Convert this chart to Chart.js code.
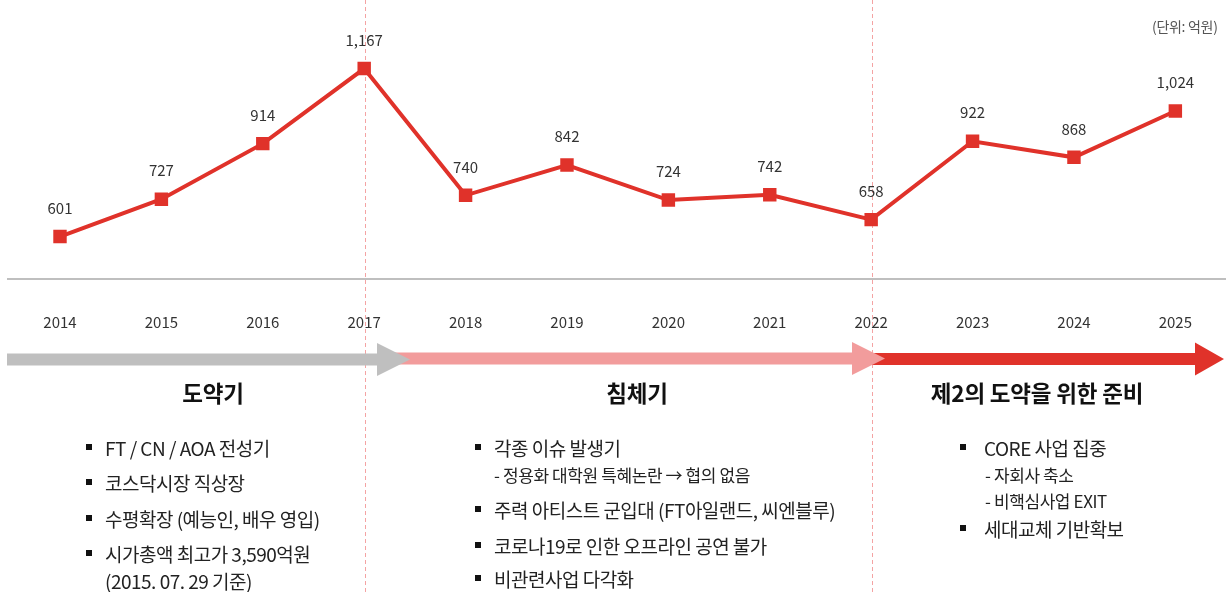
<!DOCTYPE html>
<html><head><meta charset="utf-8">
<script src="https://cdn.jsdelivr.net/npm/chart.js@4.4.1/dist/chart.umd.min.js"></script>
<style>
html,body{margin:0;padding:0;background:#fff;}
#wrap{position:relative;width:1226px;height:592px;overflow:hidden;font-family:"Noto Sans CJK KR","Noto Sans",sans-serif;color:#222;}
#c{position:absolute;left:0;top:0;}
.t{position:absolute;white-space:nowrap;line-height:1;}
.title{font-weight:bold;font-size:22.5px;color:#111;transform:translateX(-50%);letter-spacing:-0.2px;}
.b{font-size:19px;letter-spacing:-0.5px;}
.s{font-size:17px;letter-spacing:-0.4px;}
.sq{position:absolute;width:6px;height:6px;background:#111;}
.unit{font-size:14px;color:#555;letter-spacing:-0.3px;}
</style>
</head><body>
<div id="wrap">
<canvas id="c" width="1226" height="592"></canvas>
<div class="t unit" style="left:1152px;top:19px;">(단위: 억원)</div>
<div id="notes"></div>
</div>
<script>
// ---- data ----
const years = ['2014','2015','2016','2017','2018','2019','2020','2021','2022','2023','2024','2025'];
const revenue = [601, 727, 914, 1167, 740, 842, 724, 742, 658, 922, 868, 1024];
const phaseDividerYears = ['2017','2022'];
const phaseTitles = ['도약기','침체기','제2의 도약을 위한 준비'];
const notesLeap = ['FT / CN / AOA 전성기','코스닥시장 직상장','수평확장 (예능인, 배우 영입)','시가총액 최고가 3,590억원'];
const notesLeapSub = ['(2015. 07. 29 기준)'];
const notesSlump = ['각종 이슈 발생기','주력 아티스트 군입대 (FT아일랜드, 씨엔블루)','코로나19로 인한 오프라인 공연 불가','비관련사업 다각화'];
const notesSlumpSub = ['- 정용화 대학원 특혜논란 → 협의 없음'];
const notesPrep = ['CORE 사업 집중','세대교체 기반확보'];
const notesPrepSub = ['- 자회사 축소','- 비핵심사업 EXIT'];

const RED = '#e0322a', PINK = '#f29c9c', GRAY = '#bfbfbf';
const FONT = '"Noto Sans CJK KR","Noto Sans",sans-serif';

// ---- notes (HTML text) ----
const notes = document.getElementById('notes');
function addText(cls, txt, left, cy, fs){
  const d = document.createElement('div'); d.className = 't ' + cls; d.textContent = txt;
  d.style.left = left + 'px'; d.style.top = (cy - fs/2) + 'px'; notes.appendChild(d); return d;
}
function addSq(left, cy){
  const d = document.createElement('div'); d.className = 'sq';
  d.style.left = left + 'px'; d.style.top = (cy - 3) + 'px'; notes.appendChild(d);
}
addText('title', phaseTitles[0], 213, 392, 22.5);
addText('title', phaseTitles[1], 637, 392, 22.5);
addText('title', phaseTitles[2], 1037, 392, 22.5);
// left column
[[notesLeap[0],447],[notesLeap[1],482],[notesLeap[2],518],[notesLeap[3],553]].forEach(([t,y])=>{addSq(86,y); addText('b', t, 105, y, 19);});
addText('b', notesLeapSub[0], 105, 580, 19);
// middle column
[[notesSlump[0],447],[notesSlump[1],509],[notesSlump[2],545],[notesSlump[3],578]].forEach(([t,y])=>{addSq(475,y); addText('b', t, 494, y, 19);});
addText('s', notesSlumpSub[0], 494, 474, 17);
// right column
[[notesPrep[0],447],[notesPrep[1],528]].forEach(([t,y])=>{addSq(960,y); addText('b', t, 984, y, 19);});
addText('s', notesPrepSub[0], 985, 474, 17);
addText('s', notesPrepSub[1], 985, 500, 17);

// ---- plugins ----
const decor = {
  id: 'decor',
  beforeDatasetsDraw(chart){
    const ctx = chart.ctx, xs = chart.scales.x, ys = chart.scales.y;
    ctx.save();
    // baseline
    const by = ys.getPixelForValue(ys.min);
    ctx.strokeStyle = GRAY; ctx.lineWidth = 2;
    ctx.beginPath(); ctx.moveTo(7, by); ctx.lineTo(1226, by); ctx.stroke();
    // dashed dividers
    ctx.strokeStyle = '#f4a3a3'; ctx.lineWidth = 1; ctx.setLineDash([4,3]);
    phaseDividerYears.forEach(yr => {
      const x = Math.round(xs.getPixelForValue(years.indexOf(yr))) + 1.5;
      ctx.beginPath(); ctx.moveTo(x, 0); ctx.lineTo(x, 592); ctx.stroke();
    });
    ctx.setLineDash([]);
    // arrows
    function arrow(x0, xb, xt, cy, color){
      ctx.fillStyle = color;
      ctx.beginPath();
      ctx.moveTo(x0, cy-6); ctx.lineTo(xb, cy-6); ctx.lineTo(xb, cy-16.5);
      ctx.lineTo(xt, cy); ctx.lineTo(xb, cy+16.5); ctx.lineTo(xb, cy+6); ctx.lineTo(x0, cy+6);
      ctx.closePath(); ctx.fill();
    }
    arrow(872, 1195, 1224, 359, RED);
    arrow(395, 852, 885, 358.5, PINK);
    arrow(7, 377, 410, 359.5, GRAY);
    ctx.restore();
  },
  afterDatasetsDraw(chart){
    const ctx = chart.ctx, meta = chart.getDatasetMeta(0);
    ctx.save();
    ctx.font = '15px ' + FONT; ctx.fillStyle = '#333';
    ctx.textAlign = 'center'; ctx.textBaseline = 'middle';
    meta.data.forEach((p, i) => ctx.fillText(revenue[i].toLocaleString('en-US'), p.x, p.y - 28.5));
    ctx.restore();
  }
};

new Chart(document.getElementById('c'), {
  type: 'line',
  data: { labels: years, datasets: [{
    data: revenue, borderColor: RED, borderWidth: 4, tension: 0,
    pointStyle: 'rect', pointRadius: 9.5, pointHoverRadius: 9.5,
    pointBackgroundColor: RED, pointBorderColor: RED, pointBorderWidth: 0
  }]},
  options: {
    responsive: false, animation: false, devicePixelRatio: 1,
    layout: { padding: { left: 60, right: 49, top: 0, bottom: 227 } },
    plugins: { legend: { display: false }, tooltip: { enabled: false } },
    scales: {
      x: { grid: { display: false, drawTicks: false }, border: { display: false },
           ticks: { padding: 34, color: '#333', font: { size: 15, family: FONT } } },
      y: { display: false, min: 458, max: 1366 }
    }
  },
  plugins: [decor]
});
</script>
</body></html>
